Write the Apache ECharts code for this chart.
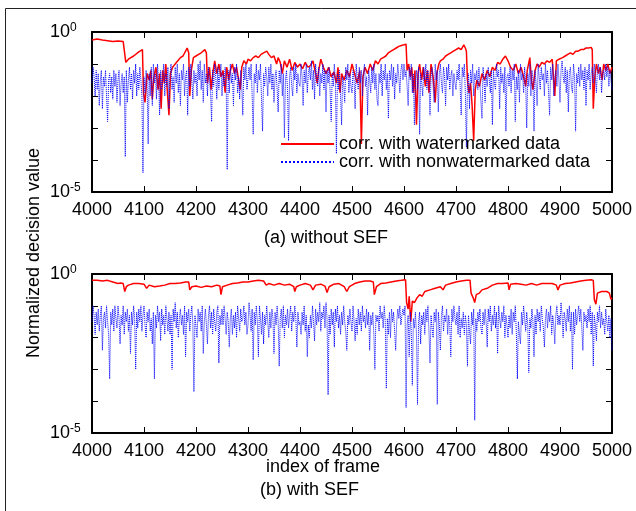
<!DOCTYPE html>
<html><head><meta charset="utf-8">
<script src="https://cdn.jsdelivr.net/npm/echarts@6/dist/echarts.min.js"></script>
<style>html,body{margin:0;padding:0;background:#fff}#c{width:636px;height:511px}</style>
</head><body><div id="c"></div>
<script>
// ---- data (values are log10 of the normalized decision value) ----
const seriesNames = ['corr. with watermarked data', 'corr. with nonwatermarked data'];
const xMin = 4000, xMax = 5000, xStep = 100;
const yTickLabels = {'0': '{b|10}{s|0}', '-5': '{b|10}{s|-5}'};
const panelTitles = ['(a) without SEF', '(b) with SEF'];
const xName = 'index of frame';
const yName = 'Normalized decision value';

// blue series sampled every 2 frames starting at 4000 (one row = 50 frames)
const blueStart = 4000, blueStep = 2;
const topBlueLog = [
-1.6,-1.1,-1.4,-2.0,-1.2,-1.8,-1.3,-2.3,-1.5,-1.2,-2.4,-1.4,-1.7,-1.2,-2.0,-2.8,-1.5,-1.3,-1.9,-1.4,-2.1,-1.2,-1.7,-1.3,-2.2,
-1.5,-1.2,-2.3,-1.6,-1.3,-1.9,-1.4,-3.9,-1.2,-2.2,-1.5,-1.1,-1.8,-1.3,-2.1,-1.2,-1.6,-1.0,-2.0,-1.3,-1.8,-1.1,-1.5,-2.0,-4.4,
-1.4,-1.9,-1.2,-1.6,-3.5,-1.3,-2.0,-1.1,-2.3,-1.0,-1.6,-1.3,-2.1,-1.0,-1.5,-2.6,-1.2,-1.8,-1.4,-1.0,-2.0,-1.3,-1.7,-1.1,-2.4,
-1.3,-1.0,-1.8,-1.4,-2.2,-1.1,-1.6,-1.0,-1.9,-1.3,-2.3,-1.2,-1.5,-1.0,-2.0,-1.4,-1.2,-2.6,-1.1,-1.7,-1.0,-1.5,-2.1,-1.2,-1.6,
-1.3,-2.0,-1.0,-1.5,-0.9,-1.8,-1.2,-2.2,-1.0,-1.6,-1.3,-2.0,-1.1,-1.5,-1.9,-2.8,-1.2,-1.7,-1.0,-1.4,-2.1,-1.1,-1.8,-1.3,-1.0,
-2.0,-1.3,-1.7,-1.1,-1.5,-4.3,-1.2,-1.9,-1.0,-1.6,-1.3,-2.3,-1.1,-1.5,-1.0,-1.9,-1.4,-2.1,-1.2,-1.7,-2.6,-1.1,-1.5,-1.0,-1.8,
-1.8,-1.1,-1.5,-1.0,-2.0,-3.2,-1.3,-1.6,-1.0,-1.9,-1.2,-1.5,-1.0,-2.1,-3.1,-1.3,-1.7,-1.1,-1.4,-2.0,-1.1,-1.6,-1.0,-1.8,-1.3,
-2.2,-1.4,-1.2,-1.8,-2.5,-1.2,-1.6,-1.0,-2.0,-1.3,-3.3,-1.5,-1.2,-1.8,-3.4,-1.4,-1.1,-1.7,-2.0,-1.1,-1.5,-1.0,-1.9,-1.3,-1.6,
-1.7,-1.0,-1.4,-2.3,-1.2,-1.6,-1.0,-1.9,-1.3,-1.1,-1.5,-0.9,-1.8,-1.2,-2.1,-1.0,-1.4,-1.7,-1.1,-2.0,-1.3,-1.6,-1.0,-1.8,-1.2,
-2.5,-1.2,-1.6,-1.1,-1.9,-2.8,-1.3,-1.7,-1.0,-1.5,-3.8,-1.3,-1.8,-1.2,-2.0,-2.9,-1.4,-1.6,-2.2,-1.1,-1.5,-1.0,-1.9,-1.3,-1.7,
-1.9,-1.2,-1.5,-2.4,-1.0,-1.4,-1.8,-1.1,-1.6,-1.2,-2.0,-1.3,-1.0,-1.7,-1.4,-2.6,-1.2,-1.5,-1.9,-1.1,-1.6,-1.0,-1.8,-1.3,-2.1,
-2.3,-1.3,-1.6,-1.0,-2.0,-1.2,-1.5,-1.0,-1.8,-1.3,-2.7,-1.2,-1.5,-1.0,-1.7,-1.1,-2.1,-1.3,-1.6,-1.0,-1.4,-1.9,-1.2,-1.0,-1.5,
-1.0,-1.4,-1.2,-1.7,-2.3,-1.1,-1.5,-1.0,-1.9,-1.3,-2.9,-1.5,-1.2,-1.8,-1.1,-3.2,-1.3,-1.6,-2.0,-1.1,-1.5,-1.0,-1.8,-1.2,-1.6,
-2.6,-1.4,-1.1,-1.7,-2.2,-1.0,-1.5,-1.2,-2.5,-1.3,-1.0,-1.6,-1.9,-1.1,-1.4,-2.3,-1.1,-1.5,-1.0,-1.8,-1.4,-1.2,-2.0,-1.3,-1.6,
-1.8,-1.2,-1.5,-1.0,-1.7,-2.6,-1.1,-1.4,-1.0,-1.9,-3.6,-1.7,-1.3,-2.4,-1.2,-1.6,-1.0,-2.0,-1.3,-1.5,-1.2,-1.8,-1.1,-1.6,-2.2,
-2.7,-1.1,-1.5,-2.2,-1.3,-1.7,-1.1,-1.5,-1.9,-1.2,-2.9,-1.2,-1.6,-1.8,-1.0,-1.4,-1.2,-2.4,-1.1,-1.6,-1.3,-1.9,-1.1,-3.1,-1.4,
-1.3,-1.7,-1.1,-1.9,-1.2,-1.5,-1.0,-2.8,-1.4,-1.8,-1.2,-2.2,-1.0,-1.5,-1.3,-1.9,-1.1,-1.6,-3.0,-1.3,-1.7,-1.0,-2.0,-1.2,-1.5,
-3.1,-1.2,-1.6,-2.3,-1.0,-1.4,-1.8,-1.1,-1.5,-1.3,-2.0,-1.0,-1.6,-1.2,-1.9,-2.6,-1.1,-1.5,-1.0,-2.0,-1.4,-1.2,-1.7,-1.0,-1.5,
-2.2,-1.2,-0.9,-1.4,-1.6,-1.1,-1.9,-1.2,-2.5,-1.3,-1.1,-1.7,-1.9,-1.0,-1.4,-3.1,-1.3,-1.6,-1.1,-1.7,-1.0,-1.5,-1.2,-1.8,-1.1,
-2.3,-1.2,-1.5,-1.0,-1.8,-1.3,-1.1,-1.6,-1.0,-1.4,-1.9,-1.2,-1.0,-1.5,-1.1,-1.9,-1.3,-1.2,-1.5,-1.0,-1.4,-1.1,-1.7,-1.2,-1.5,
-1.8
];
const botBlueLog = [
-1.5,-1.0,-1.3,-1.9,-1.2,-1.6,-1.1,-1.8,-1.3,-1.0,-2.4,-1.4,-1.2,-1.7,-1.0,-1.5,-1.9,-3.3,-1.2,-1.6,-1.1,-1.8,-1.0,-1.4,-1.7,
-1.0,-1.4,-2.2,-1.3,-1.6,-1.0,-1.9,-1.2,-1.5,-1.1,-1.8,-1.3,-2.5,-1.2,-1.6,-1.0,-1.4,-3.0,-1.2,-1.7,-1.1,-1.5,-1.0,-1.8,-1.3,
-1.0,-1.6,-2.0,-1.2,-1.5,-1.1,-1.8,-1.4,-2.2,-1.2,-3.3,-1.3,-1.7,-1.0,-1.5,-1.2,-2.1,-1.1,-1.6,-1.3,-1.9,-1.0,-1.4,-1.8,-1.2,
-1.9,-1.3,-3.0,-1.1,-1.5,-0.9,-1.7,-1.2,-2.0,-1.4,-1.1,-1.6,-1.3,-1.9,-1.0,-2.6,-1.2,-1.5,-1.1,-1.8,-1.3,-1.0,-1.6,-3.7,-1.3,
-1.3,-2.0,-1.1,-1.5,-1.2,-1.8,-1.0,-2.5,-1.5,-1.1,-1.6,-2.2,-1.3,-1.0,-1.7,-1.2,-1.9,-1.1,-1.5,-1.8,-1.2,-1.0,-2.8,-1.3,-1.6,
-1.1,-1.6,-1.0,-1.4,-1.9,-1.2,-1.5,-2.3,-1.4,-1.1,-1.9,-1.3,-1.7,-1.2,-2.0,-1.0,-1.4,-1.8,-1.1,-1.5,-1.4,-1.0,-1.6,-1.2,-1.9,
-1.6,-0.9,-1.3,-1.8,-1.1,-2.7,-1.2,-1.6,-1.0,-1.5,-2.6,-1.0,-1.4,-1.9,-1.2,-2.2,-1.3,-1.6,-1.0,-1.5,-2.0,-1.2,-1.7,-1.1,-1.4,
-2.5,-1.2,-1.6,-1.0,-1.5,-2.9,-1.4,-1.1,-1.7,-1.0,-2.0,-1.3,-1.6,-1.1,-1.7,-1.3,-1.0,-1.8,-1.2,-1.5,-1.0,-1.4,-2.3,-1.2,-1.6,
-1.5,-1.9,-1.2,-1.6,-1.0,-1.8,-1.3,-2.6,-1.6,-2.0,-1.3,-1.7,-1.0,-1.5,-2.1,-1.1,-1.6,-1.2,-1.5,-0.9,-1.8,-1.2,-1.4,-1.0,-1.7,
-0.9,-1.4,-3.8,-1.3,-1.9,-1.1,-1.6,-1.2,-2.3,-1.1,-1.5,-1.0,-1.7,-1.3,-1.9,-1.2,-1.6,-1.0,-1.5,-1.8,-2.4,-1.3,-1.6,-1.1,-1.5,
-1.8,-1.0,-1.5,-2.1,-1.4,-1.9,-1.1,-1.6,-1.2,-1.8,-1.0,-1.5,-1.3,-1.7,-1.1,-1.6,-1.2,-2.4,-1.3,-1.6,-1.2,-1.9,-3.0,-1.3,-1.5,
-1.3,-1.8,-1.0,-1.4,-1.2,-1.7,-1.0,-1.5,-3.6,-1.4,-1.9,-1.2,-2.0,-1.1,-1.5,-1.2,-1.8,-2.4,-1.5,-1.1,-1.4,-1.0,-1.6,-1.3,-1.1,
-1.3,-1.0,-4.2,-1.6,-1.3,-2.6,-1.2,-1.8,-3.5,-1.4,-1.7,-1.2,-1.9,-4.1,-1.5,-1.2,-2.2,-1.3,-1.6,-1.2,-1.9,-1.1,-1.5,-1.0,-1.8,
-2.8,-1.3,-1.7,-2.0,-1.2,-1.5,-1.1,-4.1,-1.2,-1.6,-2.4,-1.3,-1.0,-1.8,-1.3,-1.5,-1.1,-1.9,-1.3,-1.6,-2.6,-1.1,-1.5,-1.0,-1.4,
-1.6,-1.2,-1.9,-1.0,-2.0,-1.4,-1.7,-1.2,-1.9,-1.3,-1.6,-2.9,-1.3,-1.8,-2.2,-1.2,-1.6,-1.1,-4.6,-1.4,-1.8,-1.2,-1.5,-1.1,-1.7,
-1.9,-1.2,-1.6,-1.1,-1.5,-2.3,-1.1,-1.5,-1.0,-1.8,-1.3,-1.6,-1.0,-1.7,-1.2,-2.5,-1.0,-1.4,-1.7,-1.2,-1.5,-1.0,-2.0,-1.3,-1.6,
-2.0,-1.3,-1.7,-1.1,-1.9,-1.2,-1.5,-1.0,-1.8,-3.3,-1.5,-1.9,-2.2,-1.2,-1.6,-1.0,-1.4,-1.8,-1.2,-1.6,-3.1,-1.4,-1.7,-1.1,-1.5,
-2.6,-1.3,-1.9,-1.1,-1.5,-1.2,-1.8,-1.0,-1.4,-1.7,-2.3,-1.4,-1.1,-1.7,-1.2,-1.5,-1.0,-1.9,-1.3,-1.6,-2.2,-1.3,-1.0,-1.6,-1.3,
-1.6,-0.9,-1.3,-2.0,-1.2,-1.4,-1.8,-1.1,-1.5,-1.0,-1.8,-1.2,-3.0,-1.2,-1.9,-1.1,-1.6,-1.3,-1.0,-1.5,-1.1,-1.7,-2.4,-1.2,-1.5,
-1.3,-1.7,-1.1,-1.5,-1.0,-1.9,-1.2,-2.9,-1.3,-1.6,-2.1,-1.2,-1.5,-1.0,-1.7,-1.2,-1.6,-1.4,-1.9,-1.1,-1.5,-1.8,-1.3,-2.0,-1.4,
-2.4
];
// red series as [frame, log10 value]
const topRed = [
[4000,-0.25],[4010,-0.22],[4020,-0.25],[4030,-0.27],[4040,-0.3],[4050,-0.28],[4060,-0.3],[4063,-0.3],
[4065,-0.95],[4070,-0.85],[4080,-0.75],[4090,-0.62],[4097,-0.55],[4099,-1.9],[4102,-2.2],[4106,-1.3],
[4110,-1.5],[4113,-1.2],[4116,-2.1],[4119,-1.4],[4123,-1.1],[4127,-1.8],[4130,-1.3],[4133,-2.4],
[4136,-1.2],[4139,-1.6],[4142,-1.0],[4145,-1.9],[4148,-2.6],[4151,-1.3],[4155,-1.1],[4160,-1.0],
[4165,-0.9],[4170,-0.8],[4175,-0.75],[4180,-0.6],[4183,-0.5],[4186,-0.65],[4188,-2.0],[4191,-1.2],
[4195,-0.8],[4200,-0.75],[4205,-0.7],[4210,-0.65],[4217,-0.55],[4220,-0.65],[4222,-1.6],[4226,-1.1],
[4229,-1.8],[4233,-1.2],[4236,-0.9],[4240,-1.3],[4244,-1.0],[4248,-1.4],[4252,-1.2],[4256,-1.9],
[4259,-1.1],[4263,-1.5],[4266,-1.2],[4270,-1.0],[4274,-1.3],[4278,-1.1],[4282,-1.5],[4285,-1.8],
[4288,-1.1],[4292,-0.9],[4297,-1.0],[4300,-0.85],[4305,-0.9],[4310,-0.8],[4315,-0.75],[4320,-0.8],
[4325,-0.7],[4330,-0.65],[4336,-0.6],[4340,-0.7],[4345,-0.8],[4350,-0.75],[4355,-1.0],[4358,-0.8],
[4362,-0.95],[4366,-1.3],[4370,-0.9],[4375,-1.1],[4380,-0.85],[4385,-1.2],[4390,-0.95],[4395,-1.1],
[4400,-1.0],[4405,-1.15],[4410,-0.95],[4415,-1.1],[4420,-1.05],[4425,-0.9],[4430,-1.3],[4433,-1.6],
[4436,-1.2],[4440,-0.85],[4445,-1.1],[4450,-1.3],[4455,-1.1],[4460,-1.4],[4465,-1.25],[4470,-1.6],
[4473,-1.1],[4477,-1.9],[4480,-1.3],[4485,-1.5],[4490,-1.2],[4495,-1.4],[4500,-1.0],[4505,-1.3],
[4510,-1.6],[4515,-1.2],[4518,-3.5],[4521,-1.4],[4525,-1.1],[4530,-1.3],[4535,-1.0],[4540,-1.2],
[4545,-0.9],[4550,-1.0],[4555,-0.85],[4560,-0.8],[4565,-0.75],[4570,-0.65],[4575,-0.6],[4580,-0.55],
[4585,-0.5],[4590,-0.45],[4595,-0.42],[4600,-0.4],[4604,-0.38],[4606,-1.2],[4609,-1.0],[4612,-1.4],
[4615,-1.1],[4618,-1.9],[4621,-1.2],[4624,-2.9],[4627,-1.3],[4630,-1.0],[4634,-1.5],[4637,-1.1],
[4641,-1.7],[4645,-1.2],[4648,-1.9],[4652,-1.0],[4656,-1.4],[4660,-2.2],[4663,-1.3],[4667,-1.0],
[4670,-0.9],[4675,-0.85],[4680,-0.75],[4685,-0.7],[4690,-0.65],[4695,-0.6],[4700,-0.55],[4705,-0.5],
[4710,-0.55],[4715,-0.4],[4718,-0.5],[4720,-0.6],[4722,-1.5],[4725,-1.9],[4728,-1.6],[4731,-2.3],
[4734,-3.4],[4737,-1.8],[4740,-1.5],[4745,-1.7],[4750,-1.3],[4755,-1.5],[4760,-1.2],[4765,-1.4],
[4770,-1.1],[4775,-1.2],[4780,-0.95],[4785,-1.0],[4790,-0.85],[4795,-0.75],[4800,-0.9],[4805,-1.1],
[4810,-1.2],[4815,-1.0],[4820,-1.3],[4825,-1.1],[4830,-1.4],[4834,-1.7],[4837,-1.2],[4842,-0.8],
[4845,-1.5],[4848,-1.8],[4852,-1.2],[4856,-1.0],[4860,-1.1],[4865,-0.95],[4870,-1.0],[4875,-0.9],
[4880,-0.95],[4885,-0.85],[4890,-2.0],[4893,-0.9],[4898,-0.85],[4905,-0.8],[4910,-0.75],[4915,-0.7],
[4920,-0.65],[4925,-0.7],[4930,-0.6],[4935,-0.6],[4940,-0.55],[4945,-0.55],[4950,-0.5],[4955,-0.5],
[4960,-0.48],[4962,-0.55],[4964,-2.4],[4967,-1.4],[4970,-1.0],[4974,-1.3],[4977,-1.1],[4981,-1.5],
[4984,-1.0],[4988,-1.2],[4992,-1.0],[4996,-1.3],[5000,-1.1]
];
const botRed = [
[4000,-0.2],[4010,-0.2],[4020,-0.22],[4030,-0.2],[4040,-0.25],[4050,-0.3],[4055,-0.28],[4060,-0.3],
[4063,-0.55],[4066,-0.4],[4070,-0.35],[4080,-0.3],[4090,-0.3],[4100,-0.32],[4105,-0.45],[4110,-0.35],
[4120,-0.4],[4130,-0.38],[4140,-0.35],[4150,-0.3],[4160,-0.3],[4170,-0.28],[4180,-0.25],[4186,-0.25],
[4188,-0.5],[4192,-0.4],[4200,-0.38],[4210,-0.42],[4220,-0.38],[4230,-0.4],[4240,-0.35],[4246,-0.38],
[4248,-0.65],[4251,-0.4],[4260,-0.35],[4270,-0.3],[4280,-0.28],[4290,-0.25],[4300,-0.25],[4310,-0.22],
[4320,-0.2],[4330,-0.22],[4335,-0.35],[4340,-0.3],[4350,-0.35],[4360,-0.3],[4370,-0.35],[4380,-0.32],
[4388,-0.4],[4390,-0.55],[4393,-0.4],[4400,-0.35],[4410,-0.3],[4420,-0.35],[4425,-0.5],[4430,-0.35],
[4440,-0.32],[4448,-0.38],[4452,-0.58],[4456,-0.4],[4465,-0.32],[4475,-0.3],[4485,-0.4],[4490,-0.55],
[4495,-0.4],[4505,-0.3],[4515,-0.25],[4525,-0.22],[4535,-0.22],[4541,-0.25],[4543,-0.65],[4547,-0.4],
[4555,-0.3],[4565,-0.28],[4575,-0.25],[4585,-0.22],[4595,-0.2],[4603,-0.18],[4605,-0.9],[4608,-1.1],
[4610,-0.7],[4613,-1.5],[4616,-0.85],[4620,-0.9],[4625,-0.75],[4630,-0.65],[4635,-0.7],[4640,-0.55],
[4650,-0.5],[4660,-0.45],[4670,-0.4],[4675,-0.5],[4680,-0.35],[4690,-0.3],[4700,-0.25],[4710,-0.22],
[4720,-0.2],[4727,-0.2],[4729,-0.6],[4733,-0.75],[4736,-0.9],[4739,-0.65],[4745,-0.6],[4750,-0.5],
[4760,-0.45],[4770,-0.35],[4780,-0.3],[4790,-0.3],[4800,-0.28],[4802,-0.5],[4805,-0.32],[4815,-0.3],
[4825,-0.32],[4835,-0.35],[4845,-0.3],[4855,-0.35],[4865,-0.3],[4875,-0.3],[4885,-0.3],[4893,-0.35],
[4896,-0.5],[4900,-0.35],[4910,-0.3],[4920,-0.28],[4930,-0.25],[4940,-0.22],[4950,-0.2],[4960,-0.18],
[4964,-0.2],[4966,-0.8],[4969,-0.95],[4972,-0.6],[4980,-0.55],[4990,-0.55],[4995,-0.6],[4998,-0.8],
[5000,-0.75]
];

// ---- build ----
const FONT = "'Liberation Sans', Arial, sans-serif";
const toPts = pairs => pairs.map(p => [p[0], Math.pow(10, p[1])]);
const bluePts = arr => arr.map((v, i) => [blueStart + i * blueStep, Math.pow(10, v)]);

const grids = [
  {left: 92, right: 24, top: 32, height: 160},
  {left: 92, right: 24, top: 274, height: 159}
];
const frameLine = {show: true, lineStyle: {color: '#000', width: 2}};
function xAx(g, pos, labels) {
  return {type: 'value', gridIndex: g, position: pos, min: xMin, max: xMax, interval: xStep,
    axisLine: frameLine, splitLine: {show: false},
    axisTick: {show: true, inside: true, length: 6, lineStyle: {color: '#000', width: 1}},
    axisLabel: {show: labels, margin: 9, fontSize: 18, color: '#000', fontFamily: FONT,
      formatter: v => String(v)}};
}
function yAx(g, pos, labels) {
  return {type: 'log', logBase: 10, gridIndex: g, position: pos, min: 1e-5, max: 1,
    axisLine: frameLine, splitLine: {show: false}, minorTick: {show: false},
    axisTick: {show: true, inside: true, length: 6, lineStyle: {color: '#000', width: 1}},
    axisLabel: {show: labels, align: 'left', margin: 42, color: '#000', fontFamily: FONT,
      formatter: v => yTickLabels[String(Math.round(Math.log10(v)))] || '',
      rich: {b: {fontSize: 18, lineHeight: 20, fontFamily: FONT, color: '#000'},
             s: {fontSize: 12, lineHeight: 12, verticalAlign: 'top', fontFamily: FONT, color: '#000'}}}};
}
const redStyle = {color: '#ff0000', width: 1.5, type: 'solid'};
const blueStyle = {color: '#0000ff', width: 1, type: 'dotted'};
function ser(name, data, xi, yi, ls) {
  return {name, type: 'line', data, xAxisIndex: xi, yAxisIndex: yi, symbol: 'none', showSymbol: false,
    lineStyle: ls, itemStyle: {color: ls.color}, animation: false};
}

const chart = echarts.init(document.getElementById('c'), null, {renderer: 'canvas'});
chart.setOption({
  backgroundColor: '#fff',
  animation: false,
  grid: grids,
  xAxis: [xAx(0, 'bottom', true), xAx(0, 'top', false), xAx(1, 'bottom', true), xAx(1, 'top', false)],
  yAxis: [yAx(0, 'left', true), yAx(0, 'right', false), yAx(1, 'left', true), yAx(1, 'right', false)],
  legend: {data: seriesNames, orient: 'vertical', left: 275, top: 130, itemWidth: 53, itemHeight: 14,
    itemGap: 0, itemStyle: {opacity: 0}, selectedMode: false,
    textStyle: {fontSize: 18, lineHeight: 18, color: '#000', fontFamily: FONT}},
  series: [
    ser(seriesNames[0], toPts(topRed), 0, 0, redStyle),
    ser(seriesNames[1], bluePts(topBlueLog), 0, 0, blueStyle),
    ser(seriesNames[0], toPts(botRed), 2, 2, redStyle),
    ser(seriesNames[1], bluePts(botBlueLog), 2, 2, blueStyle)
  ],
  graphic: [
    {type: 'rect', shape: {x: 5.5, y: 8.5, width: 700, height: 600}, style: {fill: 'none', stroke: '#222', lineWidth: 1}, z: -1, silent: true},
    {type: 'text', x: 264, y: 238, style: {text: panelTitles[0], fontSize: 18, fontFamily: FONT, fill: '#000', textVerticalAlign: 'middle'}},
    {type: 'text', x: 266, y: 467, style: {text: xName, fontSize: 18, fontFamily: FONT, fill: '#000', textVerticalAlign: 'middle'}},
    {type: 'text', x: 260, y: 490, style: {text: panelTitles[1], fontSize: 18, fontFamily: FONT, fill: '#000', textVerticalAlign: 'middle'}},
    {type: 'text', x: 34, y: 253, rotation: Math.PI / 2, style: {text: yName, fontSize: 18, fontFamily: FONT, fill: '#000', textAlign: 'center', textVerticalAlign: 'middle'}}
  ]
});
</script>
</body></html>
